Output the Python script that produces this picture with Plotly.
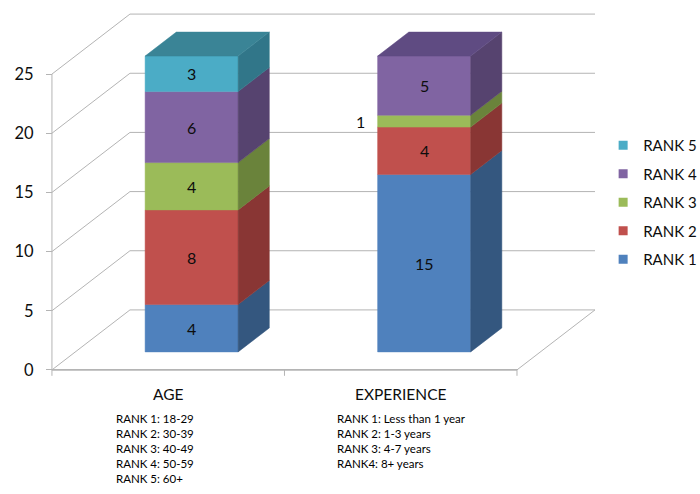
import plotly.graph_objects as go

# ---------------- data ----------------
categories = ["AGE", "EXPERIENCE"]
series_names = ["RANK 1", "RANK 2", "RANK 3", "RANK 4", "RANK 5"]
age_values = [4, 8, 4, 6, 3]
experience_values = [15, 4, 1, 5, 0]
y_ticks = [0, 5, 10, 15, 20, 25]
age_notes = ["RANK 1: 18-29", "RANK 2: 30-39", "RANK 3: 40-49", "RANK 4: 50-59", "RANK 5: 60+"]
experience_notes = ["RANK 1: Less than 1 year", "RANK 2: 1-3 years", "RANK 3: 4-7 years", "RANK4: 8+ years"]

# ---------------- style ----------------
front_colors = ["#4F81BD", "#C0504D", "#9BBB59", "#8064A2", "#4BACC6"]
side_colors = ["#34577F", "#893634", "#6A833B", "#56436F", "#317689"]
top_colors = ["#3E6696", "#9A3F3D", "#7C9647", "#5F4B82", "#3A8496"]
GRID = "#B4B4B4"
FONT = "Lato"
TXT = "#0d0d0d"

DX = 0.3355   # x shift of full depth (category units)
DY = 5.07     # y shift of full depth (value units)
BAR_W = 0.4
Z0, Z1 = 0.3, 0.7

PX_X = 232.5
PX_Y = 11.84
x_range = [-0.06, 2.40]
y_range = [-0.6, 30.5]
W, H = 700, 494
origin_px = (52, 370)
ml = origin_px[0] + x_range[0] * PX_X
pw = (x_range[1] - x_range[0]) * PX_X
mr = W - ml - pw
mt = origin_px[1] - y_range[1] * PX_Y
ph = (y_range[1] - y_range[0]) * PX_Y
mb = H - mt - ph


def proj(x, v, z):
    return x + z * DX, v + z * DY


def to_paper_y(v):
    return (v - y_range[0]) / (y_range[1] - y_range[0])


def to_paper_x(x):
    return (x - x_range[0]) / (x_range[1] - x_range[0])


fig = go.Figure()

# ---------------- walls / floor / gridlines ----------------
n_cat = len(categories)
gx, gy = [], []
for t in y_ticks:
    a = proj(0, t, 0)
    b = proj(0, t, 1)
    c = proj(n_cat, t, 1)
    gx += [a[0], b[0], c[0], None]
    gy += [a[1], b[1], c[1], None]
a = proj(n_cat, 0, 0)
b = proj(n_cat, 0, 1)
gx += [a[0], b[0], None]
gy += [a[1], b[1], None]
gx += [0, 0, None]
gy += [0, max(y_ticks), None]
for k in range(n_cat + 1):
    gx += [k, k, None]
    gy += [0, -0.5, None]
fig.add_trace(go.Scatter(x=gx, y=gy, mode="lines", line=dict(color=GRID, width=1),
                         hoverinfo="skip", showlegend=False))
fig.add_trace(go.Scatter(x=[0, n_cat], y=[0, 0], mode="lines", line=dict(color=GRID, width=1.8),
                         hoverinfo="skip", showlegend=False))

# ---------------- 3D stacked bars ----------------
annotations = []
all_values = [age_values, experience_values]
for ci, vals in enumerate(all_values):
    base = 0
    xl = ci + 0.5 - BAR_W / 2
    xr = ci + 0.5 + BAR_W / 2
    nz = [i for i, v in enumerate(vals) if v > 0]
    for si, v in enumerate(vals):
        if v <= 0:
            continue
        top = base + v
        pts = [proj(xl, base, Z0), proj(xr, base, Z0), proj(xr, top, Z0), proj(xl, top, Z0), proj(xl, base, Z0)]
        fig.add_trace(go.Scatter(x=[p[0] for p in pts], y=[p[1] for p in pts], fill="toself", mode="lines",
                                 fillcolor=front_colors[si], line=dict(color=front_colors[si], width=0.5),
                                 hoverinfo="skip", showlegend=False))
        pts = [proj(xr, base, Z0), proj(xr, base, Z1), proj(xr, top, Z1), proj(xr, top, Z0), proj(xr, base, Z0)]
        fig.add_trace(go.Scatter(x=[p[0] for p in pts], y=[p[1] for p in pts], fill="toself", mode="lines",
                                 fillcolor=side_colors[si], line=dict(color=side_colors[si], width=0.5),
                                 hoverinfo="skip", showlegend=False))
        if si == nz[-1]:
            pts = [proj(xl, top, Z0), proj(xr, top, Z0), proj(xr, top, Z1), proj(xl, top, Z1), proj(xl, top, Z0)]
            fig.add_trace(go.Scatter(x=[p[0] for p in pts], y=[p[1] for p in pts], fill="toself", mode="lines",
                                     fillcolor=top_colors[si], line=dict(color=top_colors[si], width=0.5),
                                     hoverinfo="skip", showlegend=False))
        cx, cy = proj(ci + 0.5, base + v / 2, Z0)
        if v >= 2:
            annotations.append(dict(x=cx, y=cy, xref="x", yref="y", text=str(v), showarrow=False,
                                    font=dict(family=FONT, size=16, color=TXT)))
        else:
            lx, _ = proj(xl, 0, Z0)
            annotations.append(dict(x=lx, y=cy, xref="x", yref="y", text=str(v), showarrow=False,
                                    xanchor="right", xshift=-11,
                                    font=dict(family=FONT, size=16, color=TXT)))
        base = top

# ---------------- legend entries ----------------
for si in reversed(range(len(series_names))):
    fig.add_trace(go.Scatter(x=[None], y=[None], mode="markers", name=series_names[si],
                             legendgroup=series_names[si],
                             marker=dict(symbol="square", size=9, color=front_colors[si])))

# ---------------- notes below categories ----------------
for ci, notes in enumerate([age_notes, experience_notes]):
    nx = [0.271, 1.2215][ci]
    annotations.append(dict(x=to_paper_x(nx), y=to_paper_y(-3.45), xref="paper", yref="paper",
                            text="<br>".join(notes), showarrow=False, xanchor="left", yanchor="top",
                            align="left", borderpad=0,
                            font=dict(family=FONT, size=11.5, color="#000")))

fig.update_layout(
    width=W, height=H,
    margin=dict(l=ml, r=mr, t=mt, b=mb, pad=0, autoexpand=False),
    paper_bgcolor="white", plot_bgcolor="white",
    font=dict(family=FONT, color=TXT),
    xaxis=dict(range=x_range, showgrid=False, zeroline=False, showline=False, automargin=False,
               tickvals=[i + 0.5 for i in range(n_cat)], ticktext=categories, ticks="",
               ticklabelstandoff=6, tickfont=dict(family=FONT, size=15.5, color=TXT), fixedrange=True),
    yaxis=dict(range=y_range, anchor="free", position=to_paper_x(0), automargin=False,
               showgrid=False, zeroline=False, showline=False,
               tickvals=y_ticks, ticks="outside", ticklen=6, tickcolor=GRID,
               ticklabelstandoff=9, tickfont=dict(family=FONT, size=16.5, color=TXT), fixedrange=True),
    legend=dict(x=0.988, xanchor="left", y=0.674, yanchor="top", tracegroupgap=6,
                font=dict(family=FONT, size=15, color=TXT), bgcolor="rgba(0,0,0,0)"),
    annotations=annotations,
    showlegend=True,
)

fig.write_html("out.html")
